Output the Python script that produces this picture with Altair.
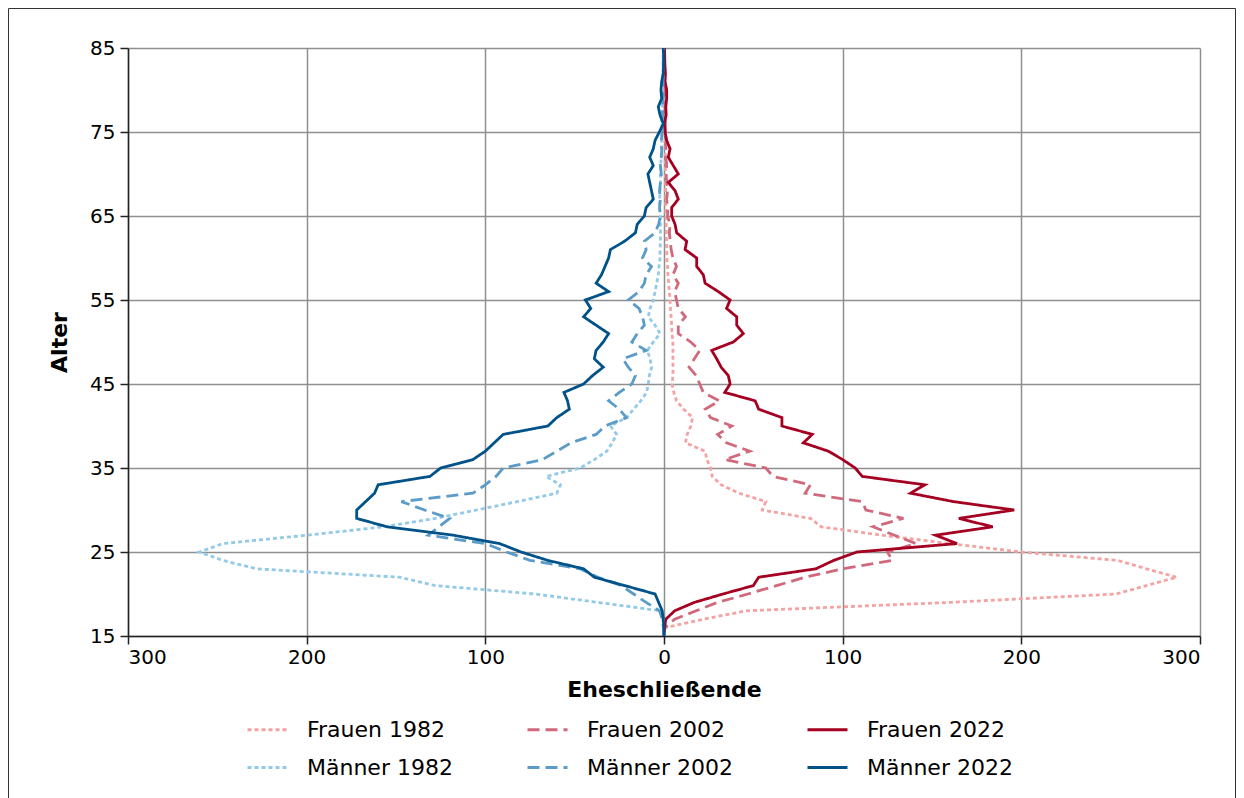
import altair as alt
import pandas as pd

ages = list(range(15, 86))

series_names = ["Frauen 1982", "Frauen 2002", "Frauen 2022",
                "Männer 1982", "Männer 2002", "Männer 2022"]

frauen_1982 = [0, 0.7, 22, 46, 160, 253, 270, 287, 270, 254, 200, 160, 122, 88, 82, 55, 57, 42, 32, 27,
               26, 24, 23, 12, 13, 15, 16, 11, 7, 5.5, 4.5, 5, 5, 5, 5, 5, 4.5, 4.3, 4, 3.6,
               3.4, 3, 2.6, 2.2, 2, 1.6, 1.5, 1.4, 1.3, 1.2, 1.1, 1, 1, 0.9, 0.9, 0.8, 0.8, 0.7, 0.7, 0.6,
               0.6, 0.5, 0.5, 0.4, 0.4, 0.3, 0.3, 0.3, 0.2, 0.2, 0.2]
frauen_2002 = [0, 0.5, 6, 18, 30, 47, 63, 79, 100, 128, 125, 141, 129, 117, 134, 113, 111, 79, 82, 61,
               57, 34, 48, 35, 30, 38, 26, 23, 31, 22, 20, 18, 14, 17, 20, 15, 8, 8, 12, 8,
               7, 6, 8, 5, 7, 5, 4, 3.5, 3, 3.4, 2, 2, 1.5, 2, 1.5, 1.2, 1.5, 1, 1, 1.2,
               0.8, 0.8, 0.6, 0.6, 0.5, 0.5, 0.4, 0.4, 0.3, 0.3, 0.2]
frauen_2022 = [0, 0.3, 1, 6, 17, 33, 50, 53, 85, 95, 108, 164, 152, 184, 165, 196, 162, 138, 146, 111,
               107, 100, 92, 78, 83, 66, 66, 53, 51, 34, 37, 36, 32, 29.5, 26.7, 38.8, 44.4, 40.7, 40.7, 35,
               37, 30.4, 23, 22, 18.3, 18.3, 11.8, 12.7, 7.1, 6.2, 4.3, 4.3, 8, 6.2, 2.4, 8, 5.2, 2.4, 3.4, 1.5,
               0.6, 0.2, 1.2, 1, 1.5, 1.5, 0.6, 0.8, 0.5, 0.4, 0.3]
maenner_1982 = [0, 0.2, 0.5, 2, 37, 72, 128, 148, 228, 247, 260, 247, 200, 157, 128, 105, 82, 60, 58, 66,
                47, 39, 32, 29, 26.5, 30, 21, 17, 13, 9.7, 8.8, 8.2, 6.9, 7.8, 9.3, 6, 2.2, 5, 8.8, 7.8,
                6, 5, 4.1, 3.2, 2.8, 2.2, 2.2, 2, 2, 2, 2, 2.5, 2.4, 2.2, 2, 2, 1.8, 1.6, 1.5, 1.4,
                1.3, 1.2, 1.1, 1, 0.9, 0.8, 0.7, 0.6, 0.5, 0.5, 0.4]
maenner_2002 = [0, 0.3, 1, 2.5, 10, 17, 24, 37, 47, 75, 88, 100, 132, 126, 120, 134, 147, 107, 100, 94,
                90, 68, 60, 52, 38, 33, 21, 25, 31, 25, 18, 16, 20, 23, 10, 18, 15, 11, 12, 14,
                20, 14, 11, 10, 7, 12, 10, 11, 5, 3, 2, 2.5, 2, 2.5, 2, 1.5, 2, 1.5, 1.2, 1.5,
                1, 1, 0.8, 0.8, 0.6, 0.6, 0.5, 0.5, 0.4, 0.3, 0.3]
maenner_2022 = [0, 0.1, 0.4, 1, 3, 5, 22, 39, 45, 65, 80, 92, 118, 155, 172, 172, 167, 162, 160, 131,
                125, 107, 100, 95, 90, 65, 60, 53, 54, 56, 45, 40, 34, 39, 38, 34, 31, 38, 45, 41,
                44, 31, 38, 35, 33, 31, 30, 22, 16, 15, 11, 10, 6, 7, 8, 9, 6, 8, 6, 5,
                2.6, 0.4, 2.2, 3.2, 1.3, 1.7, 1.3, 0.4, 0.2, 0.2, 0.4]

colors = ["#f4a3a3", "#d0697c", "#a50021", "#93c9ea", "#5a9cc7", "#005288"]
dashes = [[4, 3], [12, 6], [1, 0], [4, 3], [12, 6], [1, 0]]

values = [frauen_1982, frauen_2002, frauen_2022, maenner_1982, maenner_2002, maenner_2022]
rows = []
for name, vals in zip(series_names, values):
    sign = 1 if name.startswith("Frauen") else -1
    for a, v in zip(ages, vals):
        rows.append({"Serie": name, "Alter": a, "Wert": sign * v})
df = pd.DataFrame(rows)

FONT = "DejaVu Sans"

legend = alt.Legend(
    title=None, orient="none", legendX=118, legendY=660, direction="horizontal",
    columns=3, symbolType="stroke", symbolSize=1600, symbolStrokeWidth=2.8,
    labelFontSize=22, labelFont=FONT, labelColor="#000", labelOffset=18,
    columnPadding=68, rowPadding=5, padding=0,
)

lines = alt.Chart(df).mark_line(strokeWidth=2.8, clip=True).encode(
    x=alt.X("Wert:Q", scale=alt.Scale(domain=[-300, 300], nice=False),
            axis=alt.Axis(values=[-300, -200, -100, 0, 100, 200, 300],
                          labelExpr="abs(datum.value)", title="Eheschließende")),
    y=alt.Y("Alter:Q", scale=alt.Scale(domain=[15, 85], nice=False, zero=False),
            axis=alt.Axis(values=[15, 25, 35, 45, 55, 65, 75, 85], title="Alter")),
    color=alt.Color("Serie:N", scale=alt.Scale(domain=series_names, range=colors), legend=legend),
    strokeDash=alt.StrokeDash("Serie:N", scale=alt.Scale(domain=series_names, range=dashes), legend=legend),
    order=alt.Order("Alter:Q"),
)

frame = alt.Chart(pd.DataFrame({"a": [0]})).mark_rect(
    fill="transparent", stroke="#333", strokeWidth=1, clip=False
).encode(x=alt.value(-119.5), x2=alt.value(1107.5), y=alt.value(-39.5), y2=alt.value(820))

chart = alt.layer(frame, lines).properties(
    width=1072, height=588,
    autosize=alt.AutoSizeParams(type="none"),
    padding={"left": 120, "top": 40, "right": 36, "bottom": 200},
).configure_view(stroke=None).configure_axis(
    labelFont=FONT, titleFont=FONT, labelFontSize=20, titleFontSize=22,
    labelColor="#000", titleColor="#000", titleFontWeight="bold",
    gridColor="#8f8f8f", gridWidth=1.5, domainColor="#222", domainWidth=1.5,
    tickColor="#222", tickWidth=1.5, tickSize=8,
).configure_axisX(labelPadding=3, titlePadding=12).configure_axisY(labelPadding=5, titlePadding=18)

chart.save("out.html", embed_options={"renderer": "svg", "actions": False})
